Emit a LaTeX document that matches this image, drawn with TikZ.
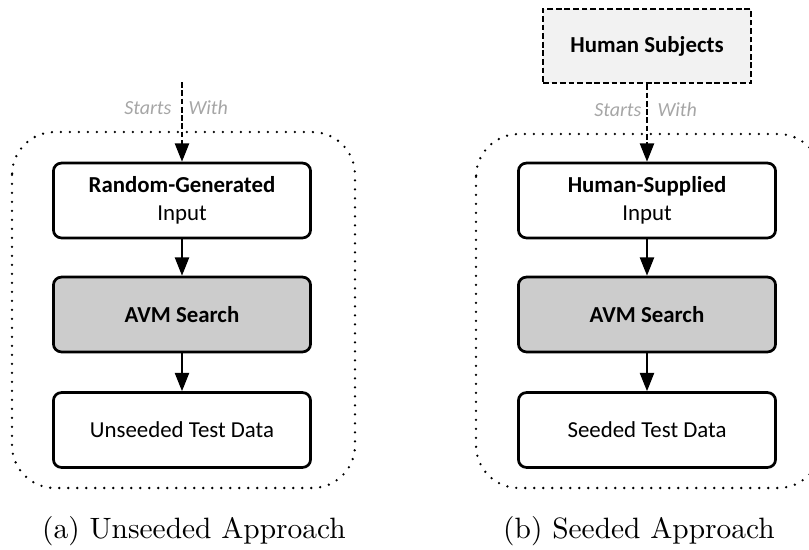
\documentclass[tikz,border=0pt]{standalone}
\usepackage{fontspec}
\newfontfamily\boxfont{Carlito}
\usetikzlibrary{arrows.meta}
\definecolor{avmgray}{HTML}{CCCCCC}
\definecolor{subjfill}{HTML}{F2F2F2}
\definecolor{labelgray}{HTML}{A6A6A6}
\tikzset{
  stepbox/.style={draw, line width=0.95pt, rounded corners=2.8pt, fill=white,
    minimum width=90pt, minimum height=26.2pt, align=center, inner sep=0pt,
    font=\boxfont\fontsize{8}{9.6}\selectfont},
  avmbox/.style={stepbox, fill=avmgray},
  subjbox/.style={draw, line width=0.9pt, dash pattern=on 2pt off 1pt, fill=subjfill,
    minimum width=72.8pt, minimum height=25.9pt, inner sep=0pt,
    font=\boxfont\fontsize{8}{9.6}\selectfont},
  flow/.style={line width=0.75pt, -{Triangle[length=6.4pt,width=4.9pt]}},
  startflow/.style={flow, dash pattern=on 2pt off 0.9pt},
  region/.style={line width=0.9pt, line cap=round, dash pattern=on 0pt off 3.15pt, rounded corners=15pt},
  edgelabel/.style={inner sep=0pt, text=labelgray, font=\boxfont\itshape\fontsize{7}{8}\selectfont},
  caption/.style={inner sep=0pt, font=\fontsize{10.3}{12}\selectfont}
}
\begin{document}
\begin{tikzpicture}[x=0.35pt, y=-0.35pt]
  \useasboundingbox (0,0) rectangle (809,549);
  \clip (0,0) rectangle (809,549);

  % ---- (a) unseeded approach ----
  \draw[region] (12,132) rectangle (355,488);
  \coordinate (aStart) at (182,82);
  \node[stepbox] (aInput) at (182,200.5) {\textbf{Random-Generated}\\Input};
  \node[avmbox] (aAVM) at (182,314.5) {\textbf{AVM Search}};
  \node[stepbox] (aData) at (182,430) {Unseeded Test Data};
  \draw[startflow] (aStart) -- (aInput);
  \draw[flow] (aInput) -- (aAVM);
  \draw[flow] (aAVM) -- (aData);
  \node[edgelabel, anchor=east] (aStarts) at (172,108) {Starts};
  \node[edgelabel, anchor=west] (aWith) at (188,108) {With};
  \node[caption] (aCap) at (194,531) {(a) Unseeded Approach};

  % ---- (b) seeded approach ----
  \draw[region] (476,134) rectangle (821,488);
  \node[subjbox] (bSubj) at (647,46) {\textbf{Human Subjects}};
  \node[stepbox] (bInput) at (647,200.5) {\textbf{Human-Supplied}\\Input};
  \node[avmbox] (bAVM) at (647,314.5) {\textbf{AVM Search}};
  \node[stepbox] (bData) at (647,430) {Seeded Test Data};
  \draw[startflow] (bSubj) -- (bInput);
  \draw[flow] (bInput) -- (bAVM);
  \draw[flow] (bAVM) -- (bData);
  \node[edgelabel, anchor=east] (bStarts) at (642,110) {Starts};
  \node[edgelabel, anchor=west] (bWith) at (657,110) {With};
  \node[caption] (bCap) at (639,531) {(b) Seeded Approach};
\end{tikzpicture}
\end{document}
